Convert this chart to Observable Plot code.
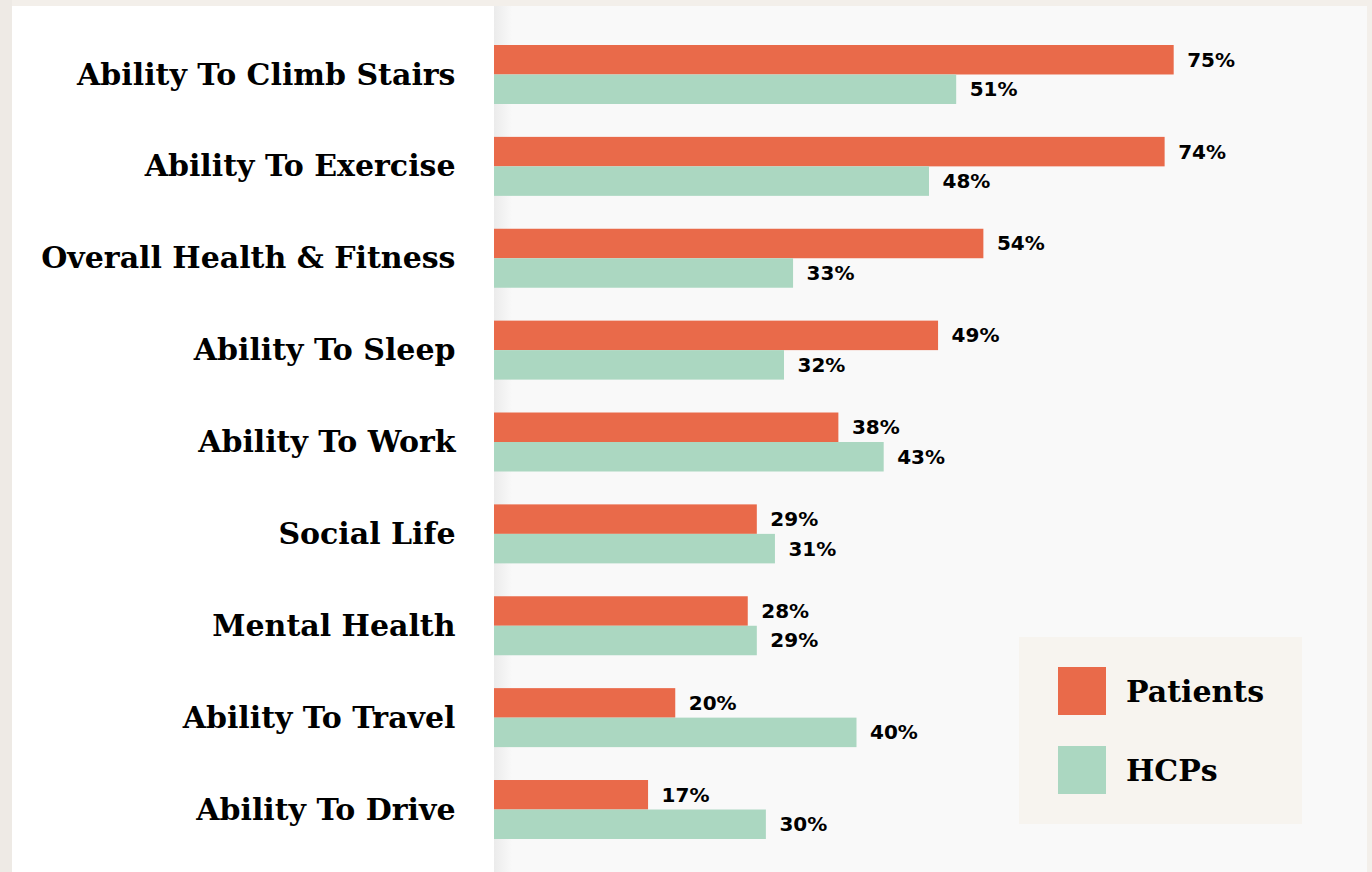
<!DOCTYPE html>
<html>
<head>
<meta charset="utf-8">
<script src="https://cdn.jsdelivr.net/npm/d3@7"></script>
<script src="https://cdn.jsdelivr.net/npm/@observablehq/plot@0.6"></script>
<style>
  html, body { margin: 0; padding: 0; background: #efebe6; }
  #wrap { position: relative; width: 1372px; height: 872px; overflow: hidden; background: #f3efea; }
  #leftstrip { position: absolute; left: 0; top: 0; width: 12px; height: 872px; background: #eeeae5; }
  #white { position: absolute; left: 12px; top: 6px; width: 482px; height: 866px; background: #ffffff; }
  #plotbg { position: absolute; left: 494px; top: 6px; width: 873px; height: 866px;
            background: linear-gradient(to right, #ebebeb 0px, #f9f9f9 18px, #f9f9f9 100%); }
  #chart { position: absolute; left: 0; top: 0; }
  #legend { position: absolute; left: 1019px; top: 637px; width: 283px; height: 187px; background: #f7f4ef;
            font-family: "DejaVu Serif", serif; font-weight: bold; font-size: 30px; color: #000; }
  .item { position: absolute; left: 39px; height: 48px; display: flex; align-items: center; }
  .sw { width: 48px; height: 48px; margin-right: 20px; }
</style>
</head>
<body>
<div id="wrap">
  <div id="leftstrip"></div>
  <div id="white"></div>
  <div id="plotbg"></div>
  <div id="chart"></div>
  <div id="legend"></div>
</div>
<script>
const categories = [
  "Ability To Climb Stairs",
  "Ability To Exercise",
  "Overall Health & Fitness",
  "Ability To Sleep",
  "Ability To Work",
  "Social Life",
  "Mental Health",
  "Ability To Travel",
  "Ability To Drive"
];
const patients = [75, 74, 54, 49, 38, 29, 28, 20, 17];
const hcps = [51, 48, 33, 32, 43, 31, 29, 40, 30];
const seriesNames = ["Patients", "HCPs"];
const seriesColors = ["#e96a4a", "#abd7c1"];

const patientRows = categories.map((c, i) => ({category: c, value: patients[i]}));
const hcpRows = categories.map((c, i) => ({category: c, value: hcps[i]}));

const half = 29.5;
const labelStyle = {
  textAnchor: "start", dx: 13, fontFamily: "DejaVu Sans", fontSize: 20,
  fontWeight: "bold", fill: "#000"
};

const chart = Plot.plot({
  width: 1372,
  height: 872,
  marginLeft: 494,
  marginRight: 8,
  marginTop: 45,
  marginBottom: 33,
  style: { background: "transparent", fontFamily: "DejaVu Serif", fontSize: "30px", fontWeight: "bold", color: "#000" },
  x: { domain: [0, 96], axis: null },
  y: { domain: categories, paddingInner: 0.358, paddingOuter: 0, round: false, label: null, tickSize: 0, tickPadding: 39 },
  marks: [
    Plot.barX(patientRows, { x: "value", y: "category", fill: seriesColors[0], insetBottom: half }),
    Plot.barX(hcpRows, { x: "value", y: "category", fill: seriesColors[1], insetTop: half }),
    Plot.text(patientRows, { x: "value", y: "category", text: d => d.value + "%", dy: -half / 2, ...labelStyle }),
    Plot.text(hcpRows, { x: "value", y: "category", text: d => d.value + "%", dy: half / 2, ...labelStyle })
  ]
});
document.getElementById("chart").appendChild(chart);

const legend = document.getElementById("legend");
seriesNames.forEach((name, i) => {
  const item = document.createElement("div");
  item.className = "item";
  item.style.top = (30 + i * 79) + "px";
  const sw = document.createElement("div");
  sw.className = "sw";
  sw.style.background = seriesColors[i];
  const label = document.createElement("span");
  label.textContent = name;
  item.appendChild(sw);
  item.appendChild(label);
  legend.appendChild(item);
});
</script>
</body>
</html>
